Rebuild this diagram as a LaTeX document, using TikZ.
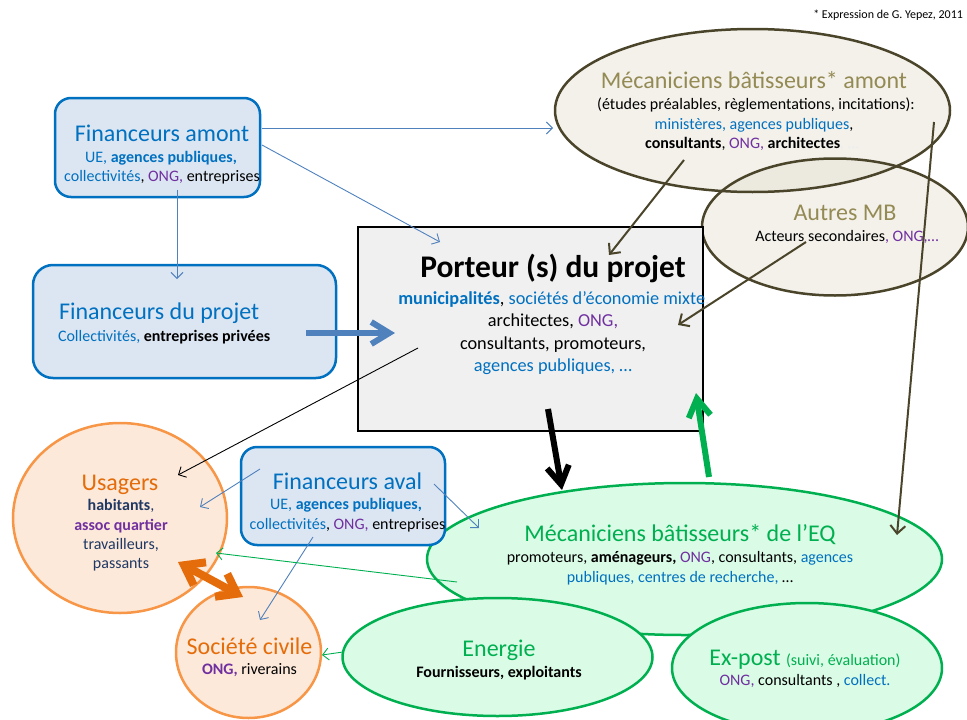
\documentclass[tikz,border=0pt]{standalone}
\usepackage{fontspec}
\setmainfont{Carlito}
\usetikzlibrary{shapes.geometric,arrows.meta}
\definecolor{fb}{HTML}{0070C0}
\definecolor{pu}{HTML}{7030A0}
\definecolor{olt}{HTML}{948A54}
\definecolor{oll}{HTML}{4A452A}
\definecolor{gr}{HTML}{00B050}
\definecolor{ort}{HTML}{E46C0A}
\definecolor{orl}{HTML}{F79646}
\definecolor{nv}{HTML}{1F3864}
\definecolor{boxfill}{HTML}{DCE6F2}
\definecolor{boxline}{HTML}{0070C0}
\definecolor{arrblue}{HTML}{4F81BD}
\definecolor{amfill}{HTML}{F3F1EA}
\definecolor{mbfill}{HTML}{E7E3D5}
\definecolor{grfill}{HTML}{DAFBE6}
\definecolor{orfill}{HTML}{FDE9D9}
\definecolor{pfill}{HTML}{F0F0F0}
\definecolor{faint}{HTML}{EDEDED}
\begin{document}
\begin{tikzpicture}[x=1pt,y=-1pt,
 tx/.style={anchor=base,inner sep=0pt,outer sep=0pt},
 fT/.style={font=\fontsize{24}{28}\selectfont},
 f16/.style={font=\fontsize{16}{19}\selectfont},
 f15/.style={font=\fontsize{16}{19}\selectfont},
 f18/.style={font=\fontsize{18.3}{21}\selectfont},
 shp/.style={inner sep=0pt,outer sep=0pt,line width=2.5pt},
 bbox/.style={shp,draw=boxline,fill=boxfill,rounded corners=16pt},
 ell/.style={shp,ellipse},
 grell/.style={ell,draw=gr,fill=grfill},
 orell/.style={ell,draw=orl,fill=orfill},
 thinarr/.style={line width=0.9pt,-{Straight Barb[length=6pt,width=12pt]}},
 barr/.style={thinarr,draw=arrblue},
 garr/.style={thinarr,draw=gr},
 karr/.style={thinarr,draw=black},
 oarr/.style={line width=2pt,draw=oll,-{Straight Barb[length=8pt,width=15pt]}},
 bigarr/.style={line width=6pt,-{Straight Barb[length=18pt,width=22pt]}},
]
\useasboundingbox (0,0) rectangle (967,720);

% ---------- upper ellipses ----------
\node[ell,fill=amfill,minimum width=395pt,minimum height=163pt] (amont) at (752.5,110.5) {};
\node[ell,fill=mbfill,fill opacity=0.5,minimum width=266pt,minimum height=137pt] (autres) at (835,227) {};
\node[ell,draw=oll,minimum width=395pt,minimum height=163pt] (amontline) at (752.5,110.5) {};
\node[ell,draw=oll,minimum width=266pt,minimum height=137pt] (autresline) at (835,227) {};

% ---------- lower ellipses ----------
\node[grell,minimum width=515pt,minimum height=152pt] (eq) at (684.5,559) {};
\node[grell,minimum width=310pt,minimum height=118pt] (energie) at (497.5,657) {};
\node[grell,minimum width=270pt,minimum height=130pt] (expost) at (807,668) {};
\node[orell,minimum width=214pt,minimum height=190pt] (usagers) at (120,518) {};
\node[orell,minimum width=145pt,minimum height=131pt] (societe) at (248.5,652.5) {};

% ---------- boxes ----------
\node[bbox,minimum width=205pt,minimum height=99pt] (famont) at (157.5,147.5) {};
\node[bbox,rounded corners=20pt,minimum width=303pt,minimum height=113pt] (fprojet) at (184.5,321.5) {};
\node[shp,draw=black,fill=pfill,minimum width=345pt,minimum height=204pt] (porteur) at (530.5,329) {};
\node[bbox,minimum width=204pt,minimum height=98pt] (faval) at (343,496) {};

% ---------- texts ----------
\node[tx,anchor=base east,font=\fontsize{12}{14}\selectfont] (foot) at (963,18) {* Expression de G. Yepez, 2011};

\node[tx,fT,text=fb] (t1a) at (162,141) {Financeurs amont};
\node[tx,f16] (t1b) at (161,162) {\color{fb}UE, \textbf{agences publiques,}};
\node[tx,f16] (t1c) at (162,181) {{\color{fb}collectivités}, {\color{pu}ONG,} entreprises};

\node[tx,anchor=base west,fT,text=fb] (t2a) at (59,319) {Financeurs du projet};
\node[tx,anchor=base west,f16] (t2b) at (58,341) {{\color{fb}Collectivités,} \textbf{entreprises privées}};

\node[tx,font=\fontsize{31.5}{36}\selectfont\bfseries] (t3a) at (553,277) {Porteur (s) du projet};
\node[tx,f18] (t3b) at (554,304) {{\color{fb}\textbf{municipalités}}, {\color{fb}sociétés d’économie mixte}{\color{faint},}};
\node[tx,f18] (t3c) at (553,326) {architectes, {\color{pu}ONG,}};
\node[tx,f18] (t3d) at (553,349) {consultants, promoteurs,};
\node[tx,f18,text=fb] (t3e) at (553,371) {agences publiques, …};

\node[tx,fT,text=olt] (t4a) at (754,88) {Mécaniciens bâtisseurs* amont};
\node[tx,f15] (t4b) at (756,109) {(études préalables, règlementations, incitations):};
\node[tx,f15] (t4c) at (754,129) {{\color{fb}ministères, agences publiques},};
\node[tx,f15] (t4d) at (752,148) {\textbf{consultants}, {\color{pu}ONG,} \textbf{architectes}{\color{faint}, …}};

\node[tx,fT,text=olt] (t5a) at (845,220) {Autres MB};
\node[tx,f15] (t5b) at (847,241) {Acteurs secondaires{\color{pu}, ONG,…}};

\node[tx,fT,text=ort] (t6a) at (120,490) {Usagers};
\node[tx,f16,text=nv] (t6b) at (121,510) {\textbf{habitants},};
\node[tx,f16,text=pu] (t6c) at (121,530) {\textbf{assoc quartier}};
\node[tx,f16,text=nv] (t6d) at (121,549) {travailleurs,};
\node[tx,f16,text=nv] (t6e) at (121,568) {passants};

\node[tx,fT,text=fb] (t7a) at (347.5,489) {Financeurs aval};
\node[tx,f16] (t7b) at (346,509) {\color{fb}UE, \textbf{agences publiques,}};
\node[tx,f16] (t7c) at (347.5,529) {{\color{fb}collectivités}, {\color{pu}ONG,} entreprises};

\node[tx,fT,text=ort] (t8a) at (249.5,654) {Société civile};
\node[tx,f16] (t8b) at (249.5,674) {{\color{pu}\textbf{ONG,}} riverains};

\node[tx,fT,text=gr] (t9a) at (680,541) {Mécaniciens bâtisseurs* de l’EQ};
\node[tx,f15] (t9b) at (680,562) {promoteurs, \textbf{aménageurs,} {\color{pu}ONG}, consultants, {\color{fb}agences}};
\node[tx,f15] (t9c) at (680,582) {{\color{fb}publiques, centres de recherche,} …};

\node[tx,fT,text=gr] (t10a) at (499,656) {Energie};
\node[tx,f15] (t10b) at (499,677) {\textbf{Fournisseurs, exploitants}};

\node[tx,text=gr] (t11a) at (805,665) {\fontsize{24}{28}\selectfont Ex-post \fontsize{16}{19}\selectfont(suivi, évaluation)};
\node[tx,f16] (t11b) at (805,685) {{\color{pu}ONG,} consultants , {\color{fb}collect.}};

% ---------- connector end points ----------
\coordinate (a1s) at (262,128);   \coordinate (a1e) at (553,128);
\coordinate (a2s) at (262,145);   \coordinate (a2e) at (440,242);
\coordinate (a3s) at (177,190);   \coordinate (a3e) at (177,279);
\coordinate (a4s) at (306,333);   \coordinate (a4e) at (395,333);
\coordinate (a5s) at (684,160);   \coordinate (a5e) at (609,255);
\coordinate (a6s) at (806,242);   \coordinate (a6e) at (678,325);
\coordinate (a7s) at (934,122);   \coordinate (a7e) at (897,535);
\coordinate (a8s) at (418,348);   \coordinate (a8e) at (178,475);
\coordinate (a9s) at (548,409);   \coordinate (a9e) at (562,490);
\coordinate (a10s) at (709,477);  \coordinate (a10e) at (696,393);
\coordinate (a11s) at (260,469);  \coordinate (a11e) at (200,507);
\coordinate (a12s) at (434,484);  \coordinate (a12e) at (479,528);
\coordinate (a13s) at (313,537);  \coordinate (a13e) at (260,620);
\coordinate (a14s) at (457,582);  \coordinate (a14e) at (216,553);
\coordinate (a15s) at (343,652);  \coordinate (a15e) at (322,655);
\coordinate (a16s) at (178,562);  \coordinate (a16e) at (243,597);

% ---------- connectors ----------
\draw[barr] (a1s) -- (a1e);
\draw[barr] (a2s) -- (a2e);
\draw[barr] (a3s) -- (a3e);
\draw[bigarr,draw=arrblue] (a4s) -- (a4e);
\draw[oarr] (a5s) -- (a5e);
\draw[oarr] (a6s) -- (a6e);
\draw[oarr] (a7s) -- (a7e);
\draw[karr] (a8s) -- (a8e);
\draw[bigarr,draw=black] (a9s) -- (a9e);
\draw[bigarr,draw=gr] (a10s) -- (a10e);
\draw[barr] (a11s) -- (a11e);
\draw[barr] (a12s) -- (a12e);
\draw[barr] (a13s) -- (a13e);
\draw[garr] (a14s) -- (a14e);
\draw[garr] (a15s) -- (a15e);
\draw[line width=8pt,draw=ort,{Straight Barb[length=18pt,width=26pt]}-{Straight Barb[length=18pt,width=26pt]}] (a16s) -- (a16e);
\end{tikzpicture}
\end{document}
